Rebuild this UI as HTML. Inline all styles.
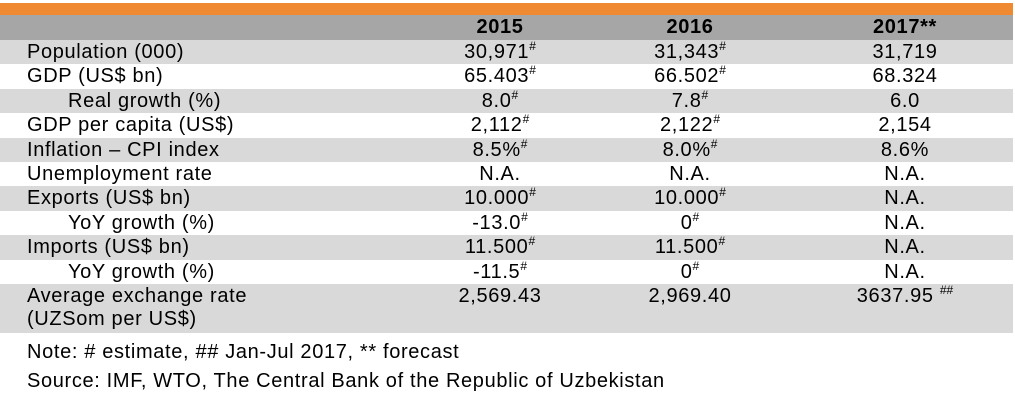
<!DOCTYPE html>
<html><head><meta charset="utf-8"><style>
body{margin:0;width:1015px;height:402px;background:#fff;font-family:"Liberation Sans",Arial,sans-serif;color:#000;position:relative;overflow:hidden}
.bar{position:absolute;left:0;top:3px;width:1013px;height:12px;background:#f08a32}
.row{position:absolute;left:0;width:1013px;font-size:20px;letter-spacing:0.65px}
.row span{position:absolute;top:1px;white-space:nowrap}
.g{background:#d9d9d9}
.h{background:#a6a6a6;font-weight:bold}
.c{transform:translateX(-50%)}
sup{font-size:12px;vertical-align:top;position:relative;top:-2px;letter-spacing:0}
.note{position:absolute;left:27px;font-size:20px;letter-spacing:0.65px}
</style></head><body>
<div class="bar"></div>
<div id="tbl"></div>
<div class="note" style="top:341px">Note: # estimate, ## Jan-Jul 2017, ** forecast</div>
<div class="note" style="top:370px">Source: IMF, WTO, The Central Bank of the Republic of Uzbekistan</div>
<script>
const years=["2015","2016","2017**"];
const labels=["Population (000)","GDP (US$ bn)","Real growth (%)","GDP per capita (US$)","Inflation – CPI index","Unemployment rate","Exports (US$ bn)","YoY growth (%)","Imports (US$ bn)","YoY growth (%)","Average exchange rate<br>(UZSom per US$)"];
const indent=[0,0,1,0,0,0,0,1,0,1,0];
const v2015=["30,971<sup>#</sup>","65.403<sup>#</sup>","8.0<sup>#</sup>","2,112<sup>#</sup>","8.5%<sup>#</sup>","N.A.","10.000<sup>#</sup>","-13.0<sup>#</sup>","11.500<sup>#</sup>","-11.5<sup>#</sup>","2,569.43"];
const v2016=["31,343<sup>#</sup>","66.502<sup>#</sup>","7.8<sup>#</sup>","2,122<sup>#</sup>","8.0%<sup>#</sup>","N.A.","10.000<sup>#</sup>","0<sup>#</sup>","11.500<sup>#</sup>","0<sup>#</sup>","2,969.40"];
const v2017=["31,719","68.324","6.0","2,154","8.6%","N.A.","N.A.","N.A.","N.A.","N.A.","3637.95 <sup>##</sup>"];
const cx=[500,690,905];
const t=document.getElementById('tbl');
const h=document.createElement('div');


h.className='row h';h.style.top='15px';h.style.height='25px';
years.forEach((y,i)=>{const s=document.createElement('span');s.className='c';s.style.left=cx[i]+'px';s.textContent=y;


h.appendChild(s);});
t.appendChild(h);
labels.forEach((l,r)=>{
const d=document.createElement('div');


d.className='row'+(r%2==0?' g':'');
d.style.top=(40+r*24.4)+'px';
d.style.height=(r==10?49:24.4)+'px';
let html='<span style="left:'+(indent[r]?68:27)+'px;line-height:23px">'+l+'</span>';
[v2015,v2016,v2017].forEach((a,i)=>{html+='<span class="c" style="left:'+cx[i]+'px">'+a[r]+'</span>';});
d.innerHTML=html;t.appendChild(d);});
</script>
</body></html>
